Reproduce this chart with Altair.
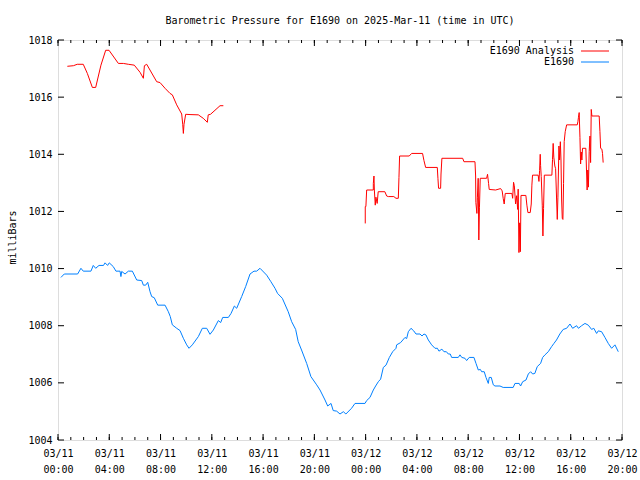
import altair as alt
import pandas as pd

FONT = "DejaVu Sans Mono"

# Hours since 2025-03-11 00:00 UTC, and pressure (mb)
analysis_h = [
    0.73, 1.2, 1.5, 1.97, 2.29, 2.68, 2.94, 3.35, 3.72, 3.98, 4.71, 5.1, 5.49, 5.95,
    6.4, 6.66, 6.74, 6.92, 7.7, 7.96, 8.35, 8.74, 8.92, 9.26, 9.65, 9.73, 9.78, 9.83,
    9.96, 10.3, 10.95, 11.33, 11.65, 11.72, 11.9, 12.64, 12.9,
    23.97, 23.97, 24.02, 24.08, 24.6, 24.6, 24.65, 24.68, 24.75, 24.8, 24.9, 24.98,
    25.5, 25.64, 25.77, 26.2, 26.37, 26.55, 26.6, 26.65, 27.4, 27.59, 28.44, 28.55,
    28.68, 29.59, 29.64, 29.69, 29.85, 29.88, 29.95, 31.57, 31.67, 32.53, 32.58, 32.6,
    32.68, 32.72, 32.78, 32.83, 32.88, 32.94, 33.44, 33.51, 33.59, 33.64, 34.14, 34.53,
    34.65, 34.73, 34.81, 34.89, 35.41, 35.47, 35.54, 35.6, 35.7, 35.78, 35.86, 35.9,
    35.96, 36.02, 36.07, 36.12, 36.5, 36.58, 36.66, 36.84, 36.92, 36.97, 37.02, 37.46,
    37.52, 37.57, 37.62, 37.65, 37.7, 37.78, 37.83, 37.88, 37.94, 38.53, 38.58, 38.63,
    38.68, 38.76, 38.82, 38.89, 38.95, 39.0, 39.08, 39.13, 39.19, 39.24, 39.29, 39.34,
    39.39, 39.44, 39.49, 39.57, 39.68, 40.51, 40.56, 40.6, 40.66, 40.72, 40.77, 40.82,
    40.87, 40.92, 41.18, 41.23, 41.28, 41.33, 41.38, 41.44, 41.5, 41.55, 41.6, 41.65,
    42.22, 42.28, 42.33, 42.43, 42.48, 42.53,
]
analysis_p = [
    1017.08, 1017.1, 1017.15, 1017.15, 1016.83, 1016.34, 1016.34, 1017.12, 1017.64,
    1017.64, 1017.18, 1017.18, 1017.15, 1017.12, 1016.87, 1016.66, 1017.1, 1017.15,
    1016.54, 1016.51, 1016.31, 1016.13, 1016.08, 1015.73, 1015.41, 1015.05, 1014.73,
    1015.05, 1015.40, 1015.39, 1015.38, 1015.26, 1015.12, 1015.38, 1015.40, 1015.70,
    1015.70,
    1011.58, 1012.17, 1012.17, 1012.75, 1012.75, 1012.98, 1013.24, 1012.75, 1012.22,
    1012.50, 1012.28, 1012.69, 1012.69, 1012.54, 1012.52, 1012.52, 1012.46, 1012.46,
    1013.19, 1013.94, 1013.94, 1014.03, 1014.03, 1013.78, 1013.54, 1013.54, 1013.16,
    1012.81, 1012.81, 1013.31, 1013.86, 1013.86, 1013.74, 1013.74, 1013.24, 1012.31,
    1011.93, 1012.50, 1013.16, 1011.00, 1012.15, 1013.16, 1013.16, 1013.30, 1012.98,
    1012.77, 1012.75, 1012.80, 1012.72, 1012.46, 1012.26, 1012.63, 1012.63, 1012.46,
    1013.02, 1012.90, 1012.26, 1012.55, 1012.07, 1012.78, 1010.56, 1011.6, 1010.59,
    1012.56, 1012.56, 1012.22, 1011.96, 1011.96, 1012.26, 1012.92, 1013.27, 1013.27,
    1013.05, 1013.43, 1014.00, 1013.60, 1013.22, 1012.22, 1011.14, 1012.10, 1013.27,
    1013.27, 1013.82, 1014.38, 1013.90, 1013.59, 1013.50, 1012.54, 1011.72, 1012.50,
    1014.29, 1013.80, 1014.44, 1013.80, 1012.40, 1011.76, 1011.72, 1012.98, 1014.44,
    1014.79, 1015.03, 1015.03, 1015.14, 1015.28, 1015.46, 1014.58, 1013.66, 1014.08,
    1013.80, 1014.21, 1014.21, 1013.45, 1012.75, 1013.45, 1012.85, 1014.09, 1014.64,
    1013.71, 1015.57, 1015.34, 1015.34, 1014.79, 1014.21, 1014.18, 1014.03, 1013.71,
]

station_h = [
    0.23, 0.49, 1.53, 1.79, 1.97, 2.57, 2.75, 2.94, 3.2, 3.55, 3.67, 3.87, 4.0, 4.31,
    4.52, 4.84, 4.91, 4.97, 5.23, 5.49, 5.8, 6.14, 6.53, 6.66, 6.84, 7.0, 7.18, 7.31,
    7.51, 7.78, 8.35, 8.61, 8.76, 8.92, 9.26, 9.52, 9.78, 10.04, 10.22, 10.48, 10.95,
    11.26, 11.6, 11.86, 12.12, 12.51, 12.69, 12.85, 13.29, 13.5, 13.76, 13.94, 14.33,
    14.64, 14.98, 15.29, 15.5, 15.76, 16.28, 16.61, 16.93, 17.13, 17.5, 17.96, 18.23,
    18.54, 18.74, 19.0, 19.4, 19.73, 20.18, 20.44, 20.83, 21.04, 21.3, 21.47, 21.74,
    22.0, 22.26, 22.46, 22.9, 23.17, 23.95, 24.08, 24.34, 24.6, 24.78, 24.99, 25.17,
    25.38, 25.59, 25.85, 26.11, 26.37, 26.42, 26.73, 27.07, 27.2, 27.33, 27.54, 27.75,
    27.93, 28.24, 28.4, 28.55, 28.7, 28.89, 29.15, 29.41, 29.6, 29.72, 29.95, 30.11,
    30.3, 30.45, 30.6, 30.71, 31.23, 31.36, 31.5, 31.75, 31.88, 32.08, 32.45, 32.61,
    32.79, 32.95, 33.05, 33.25, 33.39, 33.57, 33.64, 33.8, 33.96, 34.09, 34.48, 34.73,
    35.51, 35.65, 35.98, 36.09, 36.25, 36.51, 36.69, 36.87, 37.03, 37.2, 37.39, 37.65,
    37.81, 37.99, 38.25, 38.51, 38.69, 38.89, 39.15, 39.41, 39.68, 39.94, 40.15, 40.46,
    40.6, 40.85, 41.11, 41.37, 41.63, 41.8, 42.02, 42.15, 42.41, 42.67, 42.93, 43.19,
    43.45, 43.71,
]
station_p = [
    1009.69, 1009.81, 1009.81, 1010.01, 1009.91, 1009.91, 1010.11, 1010.01, 1010.11,
    1010.11, 1010.20, 1010.11, 1010.20, 1010.07, 1009.91, 1009.91, 1009.72, 1009.90,
    1009.81, 1009.91, 1009.91, 1009.60, 1009.58, 1009.42, 1009.42, 1009.52, 1009.19,
    1009.02, 1008.98, 1008.72, 1008.72, 1008.49, 1008.32, 1008.03, 1007.91, 1007.83,
    1007.56, 1007.33, 1007.21, 1007.33, 1007.62, 1007.91, 1007.91, 1007.70, 1007.85,
    1008.18, 1008.11, 1008.29, 1008.29, 1008.43, 1008.69, 1008.61, 1009.02, 1009.37,
    1009.81, 1009.91, 1009.91, 1010.01, 1009.77, 1009.54, 1009.31, 1009.13, 1008.96,
    1008.49, 1008.14, 1007.87, 1007.44, 1007.15, 1006.68, 1006.22, 1005.93, 1005.75,
    1005.40, 1005.19, 1005.28, 1005.03, 1005.01, 1004.91, 1004.99, 1004.91, 1005.11,
    1005.28, 1005.28, 1005.38, 1005.49, 1005.75, 1005.89, 1006.04, 1006.13, 1006.54,
    1006.62, 1006.89, 1007.09, 1007.21, 1007.33, 1007.41, 1007.59, 1007.55, 1007.79,
    1007.91, 1007.82, 1007.71, 1007.71, 1007.64, 1007.71, 1007.68, 1007.50, 1007.33,
    1007.21, 1007.21, 1007.11, 1007.18, 1007.09, 1007.09, 1007.01, 1007.01, 1006.89,
    1006.89, 1006.98, 1006.89, 1006.86, 1006.78, 1006.89, 1006.89, 1006.68, 1006.45,
    1006.47, 1006.39, 1006.39, 1006.19, 1005.98, 1006.19, 1006.19, 1005.93, 1005.89,
    1005.89, 1005.84, 1005.84, 1005.98, 1005.98, 1005.89, 1006.04, 1006.10, 1006.31,
    1006.39, 1006.31, 1006.33, 1006.57, 1006.68, 1006.89, 1006.98, 1007.09, 1007.27,
    1007.38, 1007.50, 1007.71, 1007.87, 1007.91, 1008.06, 1007.91, 1008.00, 1007.91,
    1008.00, 1008.08, 1008.02, 1007.87, 1007.91, 1007.73, 1007.82, 1007.79, 1007.59,
    1007.38, 1007.21, 1007.33, 1007.09,
]

x_major = list(range(0, 45, 4))
x_minor = list(range(0, 45, 1))
y_major = list(range(1004, 1019, 2))

series_names = ["E1690 Analysis", "E1690"]
series_colors = ["#ff0000", "#0080ff"]

W, H = 564, 400

df_a = pd.DataFrame({"h": analysis_h, "p": analysis_p})
df_a["seg"] = ["a1" if h < 18 else "a2" for h in analysis_h]  # data gap
df_a["i"] = range(len(df_a))
df_a["s"] = series_names[0]
df_s = pd.DataFrame({"h": station_h, "p": station_p})
df_s["seg"] = "s"
df_s["i"] = range(len(df_s))
df_s["s"] = series_names[1]
lines_df = pd.concat([df_a, df_s], ignore_index=True)

xscale = alt.Scale(domain=[0, 44], nice=False, zero=False)
yscale = alt.Scale(domain=[1004, 1018], nice=False, zero=False)

label_expr = ("[datum.value < 24 ? '03/11' : '03/12', "
              "(datum.value % 24 < 10 ? '0' : '') + (datum.value % 24) + ':00']")

lines = alt.Chart(lines_df).mark_line(strokeWidth=1, interpolate="linear").encode(
    x=alt.X("h:Q", scale=xscale, axis=alt.Axis(
        values=x_major, labelExpr=label_expr, title=None, ticks=False, domain=False,
        grid=False, labelFont=FONT, labelFontSize=10, labelColor="black",
        labelPadding=8, labelLineHeight=16, labelFlush=False, labelOverlap=False)),
    y=alt.Y("p:Q", scale=yscale, axis=alt.Axis(
        values=y_major, format="d", title="milliBars", ticks=False, domain=False,
        grid=False, labelFont=FONT, labelFontSize=10, labelColor="black",
        labelPadding=6, titleFont=FONT, titleFontSize=10, titleFontWeight="normal",
        titleColor="black", titleX=-46, titleY=H / 2 - 3, titleAngle=270,
        titleAlign="center", titleBaseline="middle")),
    color=alt.Color("s:N", scale=alt.Scale(domain=series_names, range=series_colors),
                    legend=None),
    detail="seg:N",
    order="i:Q",
)

xmaj_df = pd.DataFrame({"h": x_major})
xmin_df = pd.DataFrame({"h": x_minor})
ymaj_df = pd.DataFrame({"p": y_major})

tick_layers = []
for d, ln in [(xmaj_df, 6), (xmin_df, 3)]:
    tick_layers.append(alt.Chart(d).mark_rule(color="black", strokeWidth=1).encode(
        x=alt.X("h:Q", scale=xscale), y=alt.value(H), y2=alt.value(H - ln)))
    tick_layers.append(alt.Chart(d).mark_rule(color="black", strokeWidth=1).encode(
        x=alt.X("h:Q", scale=xscale), y=alt.value(0), y2=alt.value(ln)))
tick_layers.append(alt.Chart(ymaj_df).mark_rule(color="black", strokeWidth=1).encode(
    y=alt.Y("p:Q", scale=yscale), x=alt.value(0), x2=alt.value(6)))
tick_layers.append(alt.Chart(ymaj_df).mark_rule(color="black", strokeWidth=1).encode(
    y=alt.Y("p:Q", scale=yscale), x=alt.value(W), x2=alt.value(W - 6)))

leg_rows = [11, 22]
leg_df = pd.DataFrame({"s": series_names, "ypx": leg_rows})
leg_text = alt.Chart(leg_df).mark_text(
    align="right", baseline="middle", font=FONT, fontSize=10, color="black"
).encode(
    text="s:N",
    x=alt.value(516),
    y=alt.Y("ypx:Q", scale=None),
)
leg_lines = alt.Chart(leg_df).mark_rule(strokeWidth=1).encode(
    x=alt.value(523), x2=alt.value(551),
    y=alt.Y("ypx:Q", scale=None),
    color=alt.Color("s:N", scale=alt.Scale(domain=series_names, range=series_colors),
                    legend=None),
)

chart = alt.layer(lines, *tick_layers, leg_lines, leg_text).properties(
    width=W, height=H,
    title=alt.TitleParams(
        "Barometric Pressure for E1690 on 2025-Mar-11 (time in UTC)",
        font=FONT, fontSize=10, fontWeight="normal", color="black",
        anchor="middle", frame="group", offset=9),
    autosize=alt.AutoSizeParams(type="none"),
    padding={"left": 58, "top": 40, "right": 18, "bottom": 40},
).configure_view(stroke="black", strokeWidth=1).configure(background="white")

chart.save("out.html", embed_options={"renderer": "svg", "actions": False})
